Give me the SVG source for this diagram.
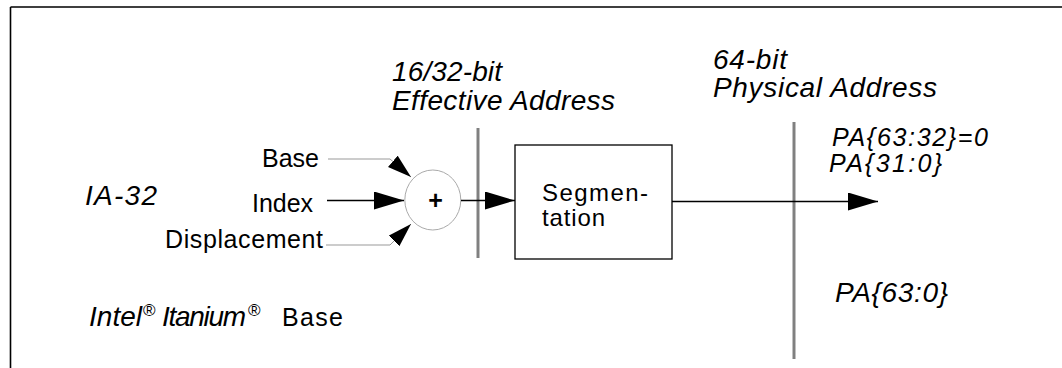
<svg xmlns="http://www.w3.org/2000/svg" width="1062" height="368" viewBox="0 0 1062 368">
<style>
text{font-family:"Liberation Sans",Arial,sans-serif;fill:#000}
.it{font-style:italic;font-size:28px}
.pa{font-style:italic;font-size:25px}
.lb{font-size:25px}
.sup{font-size:17px}
.bus{stroke:#808080;stroke-width:3;fill:none}
.wire{stroke:#000;stroke-width:1.3;fill:none}
.thin{stroke:#999;stroke-width:1;fill:none}
</style>
<defs>
<marker id="ah" markerUnits="userSpaceOnUse" markerWidth="30" markerHeight="18" refX="30" refY="9" orient="auto"><path d="M0,0 L30,9 L0,18 Z" fill="#000"/></marker>
<marker id="ahs" markerUnits="userSpaceOnUse" markerWidth="24" markerHeight="15" refX="24" refY="7.5" orient="auto"><path d="M0,0 L24,7.5 L0,15 Z" fill="#000"/></marker>
</defs>
<g id="frame"><path d="M10.5,7 H1062 M10.5,7 V368" stroke="#000" stroke-width="1.6" fill="none"/></g>
<g id="bus-effective"><line class="bus" x1="478" y1="128" x2="478" y2="258"/></g>
<g id="bus-physical"><line class="bus" x1="794" y1="122" x2="794" y2="359"/></g>
<g id="adder"><ellipse cx="432.8" cy="200" rx="28" ry="30" fill="#fff" stroke="#aaa" stroke-width="1"/><text x="435.5" y="209" text-anchor="middle" font-size="25" font-weight="bold">+</text></g>
<g id="segmentation"><rect x="515" y="145" width="157" height="114" fill="#fff" stroke="#000" stroke-width="1.3"/><text x="542" y="201" font-size="24" textLength="106" lengthAdjust="spacing">Segmen-</text><text x="542" y="226" font-size="24" textLength="63" lengthAdjust="spacing">tation</text></g>
<g id="connectors">
<path class="thin" d="M328,159 H390 L411,177" marker-end="url(#ahs)"/>
<path class="thin" d="M326,245 H390 L411,224" marker-end="url(#ahs)"/>
<path class="wire" d="M327,200.5 H404" marker-end="url(#ah)"/>
<path class="wire" d="M461,200.5 H515" marker-end="url(#ah)"/>
<path class="wire" d="M672,201.5 H878" marker-end="url(#ah)"/>
</g>
<g id="labels">
<text class="it" x="392" y="81" textLength="110" lengthAdjust="spacing">16/32-bit</text>
<text class="it" x="392" y="109.5" textLength="223" lengthAdjust="spacing">Effective Address</text>
<text class="it" x="713" y="68.5" textLength="74" lengthAdjust="spacing">64-bit</text>
<text class="it" x="713" y="97" textLength="224" lengthAdjust="spacing">Physical Address</text>
<text class="pa" x="832" y="146" textLength="156" lengthAdjust="spacing">PA{63:32}=0</text>
<text class="pa" x="829" y="172" textLength="113" lengthAdjust="spacing">PA{31:0}</text>
<text class="it" x="835" y="302" textLength="113" lengthAdjust="spacing">PA{63:0}</text>
<text class="it" x="85" y="205" textLength="72" lengthAdjust="spacing">IA-32</text>
<text class="lb" x="262" y="167" textLength="57" lengthAdjust="spacing">Base</text>
<text class="lb" x="252" y="211.5" textLength="61" lengthAdjust="spacing">Index</text>
<text class="lb" x="165" y="248" textLength="158" lengthAdjust="spacing">Displacement</text>
<text class="it" x="89" y="326" font-size="27" textLength="53" lengthAdjust="spacing">Intel</text>
<text class="sup" x="143" y="316">®</text>
<text class="it" x="162" y="326" font-size="27" textLength="84" lengthAdjust="spacing">Itanium</text>
<text class="sup" x="248" y="316">®</text>
<text class="lb" x="282" y="326" font-size="27" textLength="61" lengthAdjust="spacing">Base</text>
</g>
</svg>
